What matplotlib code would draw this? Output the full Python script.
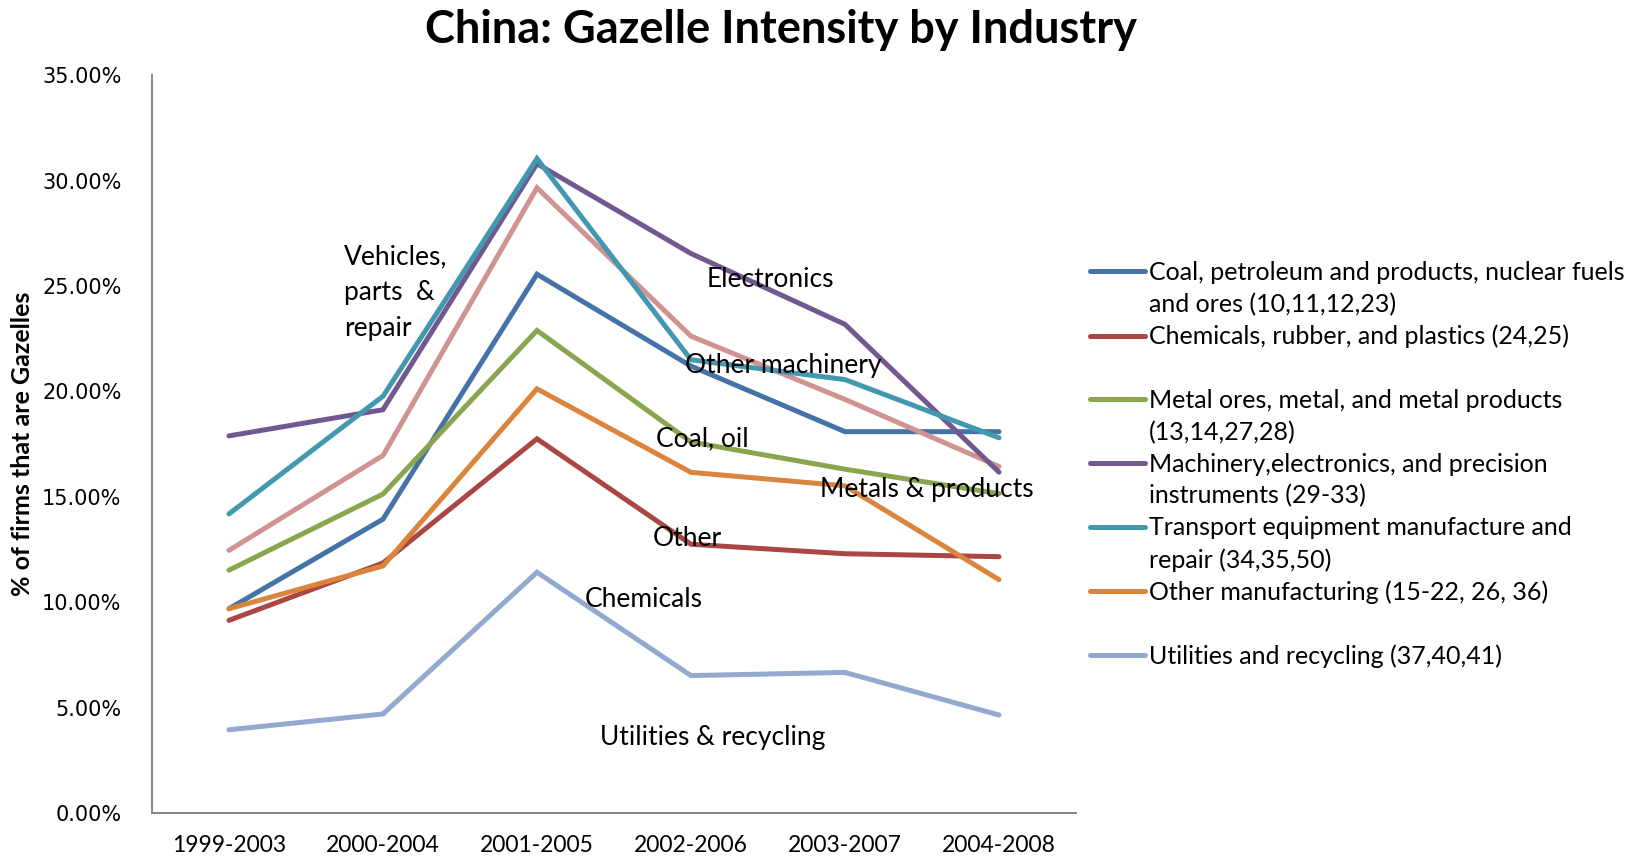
import numpy as np
import matplotlib.pyplot as plt
from matplotlib.lines import Line2D

periods = ['1999-2003', '2000-2004', '2001-2005', '2002-2006', '2003-2007', '2004-2008']

# share of firms that are gazelles, in percent
coal = [9.69, 13.94, 25.56, 21.2, 18.09, 18.09]
chemicals = [9.14, 11.86, 17.75, 12.75, 12.3, 12.16]
vehicles_other = [12.46, 16.96, 29.66, 22.62, 19.62, 16.44]
metals = [11.52, 15.13, 22.89, 17.6, 16.31, 15.15]
machinery = [17.89, 19.13, 30.8, 26.54, 23.18, 16.17]
transport = [14.19, 19.77, 31.04, 21.5, 20.56, 17.8]
other_mfg = [9.69, 11.72, 20.12, 16.16, 15.52, 11.07]
utilities = [3.95, 4.7, 11.42, 6.52, 6.67, 4.65]

legend_rows = [
    ('Coal, petroleum and products, nuclear fuels', '#4572A7'),
    ('and ores (10,11,12,23)', None),
    ('Chemicals, rubber, and plastics (24,25)', '#AA4643'),
    (' ', None),
    ('Metal ores, metal, and metal products', '#89A54E'),
    ('(13,14,27,28)', None),
    ('Machinery,electronics, and precision', '#71588F'),
    ('instruments (29-33)', None),
    ('Transport equipment manufacture and', '#4198AF'),
    ('repair (34,35,50)', None),
    ('Other manufacturing (15-22, 26, 36)', '#DB843D'),
    (' ', None),
    ('Utilities and recycling (37,40,41)', '#93A9CF'),
]

# text labels placed on the plot area (x in category units, y in percent)
notes = [
    ('Vehicles,\nparts  &\nrepair', 0.745, 27.0, 'top'),
    ('Electronics', 3.10, 25.3, 'center'),
    ('Other machinery', 2.96, 21.24, 'center'),
    ('Coal, oil', 2.77, 17.73, 'center'),
    ('Metals & products', 3.84, 15.36, 'center'),
    ('Other', 2.75, 13.04, 'center'),
    ('Chemicals', 2.31, 10.15, 'center'),
    ('Utilities & recycling', 2.41, 3.6, 'center'),
]

plt.rcParams['font.family'] = ['Lato', 'DejaVu Sans']

fig = plt.figure(figsize=(16.34, 8.61), dpi=100)
ax = fig.add_axes([0.093, 0.0557, 0.5655, 0.857])

x = np.arange(len(periods))
lw = 3.6
series = [
    (coal, '#4572A7'),
    (chemicals, '#AA4643'),
    (vehicles_other, '#D19392'),
    (metals, '#89A54E'),
    (machinery, '#71588F'),
    (transport, '#4198AF'),
    (other_mfg, '#DB843D'),
    (utilities, '#93A9CF'),
]
for vals, col in series:
    ax.plot(x, vals, color=col, lw=lw, solid_joinstyle='miter', solid_capstyle='round')

ax.set_xlim(-0.5, len(periods) - 0.5)
ax.set_ylim(0, 35)
ax.set_xticks(x)
ax.set_xticklabels(periods, fontsize=16.5)
ax.set_yticks(np.arange(0, 36, 5))
ax.set_yticklabels(['%.2f%%' % v for v in np.arange(0, 36, 5)],
                   family='DejaVu Sans', fontsize=15)
ax.tick_params(axis='both', length=0)
ax.tick_params(axis='x', pad=16)
ax.tick_params(axis='y', pad=22)

for side in ['top', 'right']:
    ax.spines[side].set_visible(False)
for side in ['left', 'bottom']:
    ax.spines[side].set_color('#868686')
    ax.spines[side].set_linewidth(1.4)

ax.set_ylabel('% of firms that are Gazelles', fontsize=18, fontweight='bold', labelpad=6)

for txt, xx, yy, va in notes:
    ax.text(xx, yy, txt, fontsize=19, ha='left', va=va, linespacing=1.55)

fig.suptitle('China: Gazelle Intensity by Industry', fontsize=32.5, fontweight='bold',
             x=0.478, y=0.99, va='top')

handles = []
labels = []
for lab, col in legend_rows:
    if col is None:
        handles.append(Line2D([], [], color='none', lw=lw))
    else:
        handles.append(Line2D([], [], color=col, lw=lw, solid_capstyle='round'))
    labels.append(lab)
fig.legend(handles, labels, loc='upper left', bbox_to_anchor=(0.667, 0.697),
           frameon=False, fontsize=18, handlelength=2.2, handletextpad=0.15,
           labelspacing=0.35, borderpad=0, borderaxespad=0)

fig.savefig('out.png', dpi=100)
